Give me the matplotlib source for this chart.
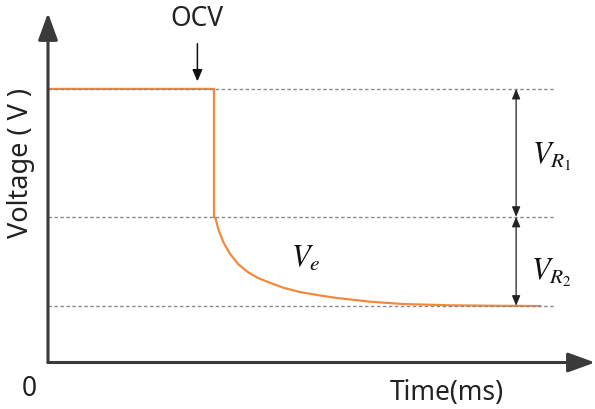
import numpy as np
import matplotlib.pyplot as plt

# ── Data (time in ms, voltage in V, schematic units) ─────────────────────────
T_STEP = 10.0      # moment the load is applied
T_REF_END = 30.5   # end of the dashed reference lines
T_ARROW = 28.2     # where the V_R1 / V_R2 brackets sit
OCV = 4.0
V_AFTER_R1 = 2.13
V_END = 0.83

decay_t = [10.0, 10.10, 10.26, 10.56, 10.96, 11.45, 12.05, 12.65, 13.43, 14.22,
           15.18, 16.39, 17.41, 19.40, 21.39, 24.22, 27.23, 29.64]
decay_v = [2.13, 2.10, 1.95, 1.76, 1.59, 1.44, 1.32, 1.235, 1.16, 1.09,
           1.03, 0.98, 0.943, 0.889, 0.855, 0.836, 0.829, 0.826]

ref_levels = [OCV, V_AFTER_R1, V_END]

X_MAX = 32.95
Y_MAX = 5.11

ORANGE = "#F28A3E"
AXIS_COL = "#3a3a3a"
FONT = "Noto Sans"

plt.rcParams["mathtext.fontset"] = "stix"

# ── Figure ───────────────────────────────────────────────────────────────────
fig = plt.figure(figsize=(5.95, 4.10), dpi=100)
ax = fig.add_axes([0, 0, 1, 1])
ax.set_xlim(-48 / 16.6, 547 / 16.6)
ax.set_ylim(-46.5 / 68.4, 363.5 / 68.4)
ax.axis("off")

# voltage trace: flat OCV, instant drop, then relaxation
trace_t = [0, T_STEP] + decay_t
trace_v = [OCV, OCV] + decay_v
ax.plot(trace_t, trace_v, color=ORANGE, lw=1.6, zorder=2, solid_joinstyle="miter")

# dashed reference levels
for lvl in ref_levels:
    ax.plot([0, T_REF_END], [lvl, lvl], color="#8a8a8a", lw=1.0,
            linestyle=(0, (2.5, 1.8)), zorder=3)

# axes with arrow heads
axis_arrow = dict(arrowstyle="-|>,head_length=1.65,head_width=0.6",
                  color=AXIS_COL, lw=2.2, shrinkA=0, shrinkB=0)
ax.annotate("", xy=(X_MAX, 0), xytext=(0, 0), arrowprops=axis_arrow)
ax.annotate("", xy=(0, Y_MAX), xytext=(0, 0), arrowprops=axis_arrow)

# OCV pointer
ax.annotate("", xy=(9.0, OCV + 0.11), xytext=(9.0, OCV + 0.66),
            arrowprops=dict(arrowstyle="-|>,head_length=0.7,head_width=0.3",
                            color="#111111", lw=1.1, shrinkA=0, shrinkB=0))
ax.text(9.0, OCV + 1.03, "OCV", ha="center", va="center", fontsize=19,
        family=FONT, color="#222222")

# V_R1 / V_R2 double arrows
dbl = dict(arrowstyle="<|-|>,head_length=0.6,head_width=0.25",
           color="#222222", lw=0.9, shrinkA=0, shrinkB=0)
ax.annotate("", xy=(T_ARROW, OCV), xytext=(T_ARROW, V_AFTER_R1), arrowprops=dbl)
ax.annotate("", xy=(T_ARROW, V_AFTER_R1), xytext=(T_ARROW, V_END), arrowprops=dbl)

ax.text(30.35, (OCV + V_AFTER_R1) / 2 - 0.05, r"$V_{R_1}$", ha="center", va="center",
        fontsize=22, color="#111111")
ax.text(30.35, (V_AFTER_R1 + V_END) / 2 - 0.15, r"$V_{R_2}$", ha="center", va="center",
        fontsize=22, color="#111111")
ax.text(15.5, 1.54, r"$V_e$", ha="center", va="center", fontsize=22, color="#111111")

# axis labels
ax.text(-1.63, 2.93, "Voltage ( V )", rotation=90, ha="center", va="center",
        fontsize=19.5, family=FONT, color="#222222")
ax.text(-1.1, -0.37, "0", ha="center", va="center", fontsize=19,
        family=FONT, color="#222222")
ax.text(24.0, -0.43, "Time(ms)", ha="center", va="center", fontsize=19,
        family=FONT, color="#222222")

fig.savefig("out.png", dpi=100)
